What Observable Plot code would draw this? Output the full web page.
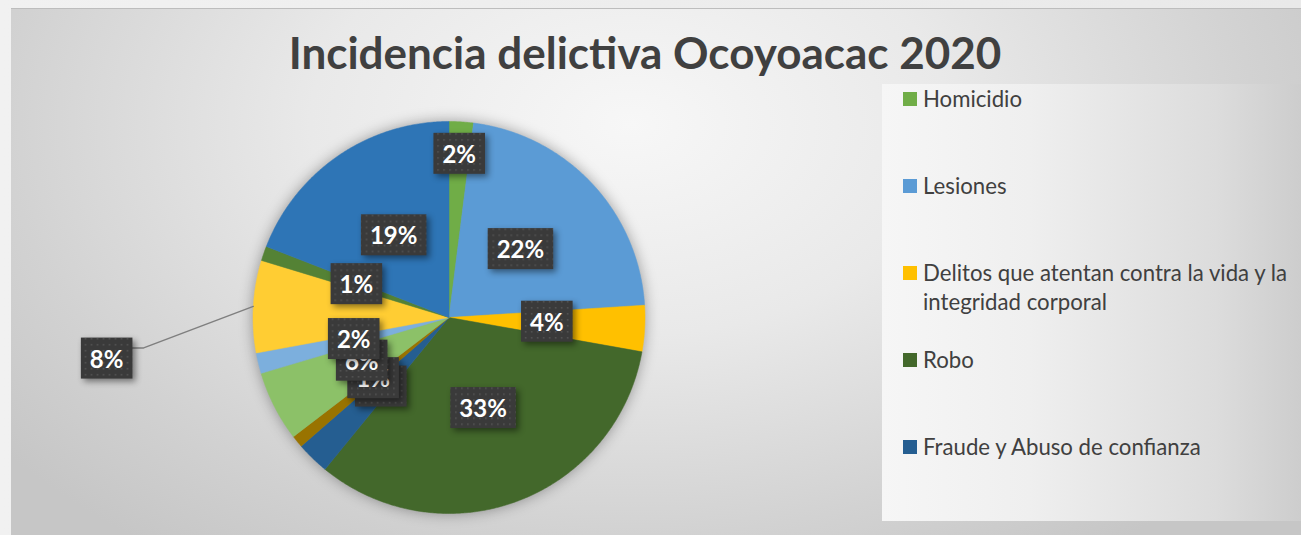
<!DOCTYPE html>
<html>
<head>
<meta charset="utf-8">
<script src="https://cdn.jsdelivr.net/npm/d3@7"></script>
<script src="https://cdn.jsdelivr.net/npm/@observablehq/plot@0.6"></script>
<style>
  html, body { margin: 0; padding: 0; background: #eeeeee; }
  #frame { position: relative; width: 1301px; height: 535px; overflow: hidden;
    background: linear-gradient(90deg, #f1f1f1, #e9e9e9); font-family: Lato, "Open Sans", sans-serif; }
  #chart { position: absolute; left: 11px; top: 8px; width: 1290px; height: 527px;
    background: radial-gradient(ellipse 62% 100% at 48% 22%, #f7f7f7 0%, #e9e9e9 40%, #d2d2d2 78%, #c6c6c6 100%);
    border-top: 1px solid #bdbdbd; box-sizing: border-box; }
  #title { position: absolute; left: -11px; top: 17px; width: 1290px; text-align: center;
    font-family: Lato, sans-serif; font-weight: 700; font-size: 44px; color: #404040; line-height: 52px; }
  #legendPanel { position: absolute; left: 871px; top: 75px; width: 419px; height: 437px;
    background: linear-gradient(90deg, #f6f6f6 0%, #efefef 35%, #dcdcdc 80%, #cdcdcd 100%); }
  .lg-item { position: absolute; left: 912px; width: 376px; font-family: Lato, sans-serif;
    font-size: 22.2px; line-height: 29px; color: #404040; }
  .lg-sw { position: absolute; left: -20px; top: 8px; width: 14px; height: 14px; }
  #plot { position: absolute; left: -11px; top: -8px; }
</style>
</head>
<body>
<div id="frame">
  <div id="chart">
    <div id="title">Incidencia delictiva Ocoyoacac 2020</div>
    <div id="legendPanel"></div>
    <div id="plot"></div>
    <div id="legend"></div>
  </div>
</div>
<script>
// ---- data ----
const categories = [
  "Homicidio",
  "Lesiones",
  "Delitos que atentan contra la vida y la integridad corporal",
  "Robo",
  "Fraude y Abuso de confianza",
  "Daño en los bienes",
  "Violencia familiar",
  "Delitos sexuales",
  "Otros delitos que atentan contra la libertad",
  "Narcomenudeo",
  "Otros delitos del fuero común"
];
const values = [2.0, 22.0, 3.8, 33.1, 2.7, 1.0, 5.8, 1.7, 7.6, 1.2, 19.1];
const colors = ["#70AD47", "#5B9BD5", "#FFC000", "#43682B", "#255E91", "#997300",
                "#8CC168", "#7CAFDD", "#FFCD33", "#548235", "#2E75B6"];
const legendShown = 5;

// ---- label placement (fraction of radius, angle shift in degrees) ----
const labelRadius = [0.83, 0.5, 0.5, 0.5, 0.5, 0.5, 0.5, 0.5, 1.76, 0.5, 0.5];
const labelShift  = [0, 0, 0, 0, 0, 0, 0, 0, -10.3, 0, 0];
const leaderFor = 8;

// ---- geometry ----
const W = 1301, H = 535, CX = 448.5, CY = 316, R = 196;
const arcs = d3.pie().sort(null).value(d => d)(values);

const slicePts = [];
arcs.forEach((p, i) => {
  const n = Math.max(2, Math.ceil((p.endAngle - p.startAngle) / (Math.PI / 360)));
  slicePts.push({cat: categories[i], x: 0, y: 0});
  for (let k = 0; k <= n; k++) {
    const a = p.startAngle + (p.endAngle - p.startAngle) * k / n;
    slicePts.push({cat: categories[i], x: Math.sin(a), y: -Math.cos(a)});
  }
  slicePts.push({cat: categories[i], x: 0, y: 0});
});

const labelData = arcs.map((p, i) => {
  const a = (p.startAngle + p.endAngle) / 2 + labelShift[i] * Math.PI / 180;
  const r = labelRadius[i];
  return {x: r * Math.sin(a), y: -r * Math.cos(a), text: Math.round(values[i]) + "%", cat: categories[i]};
});

const lp = arcs[leaderFor];
const lm = (lp.startAngle + lp.endAngle) / 2;
const L = labelData[leaderFor];
const leader = [
  {x: Math.sin(lm), y: -Math.cos(lm)},
  {x: L.x + 37 / R, y: L.y - 12 / R},
  {x: L.x + 25 / R, y: L.y - 12 / R}
];

const svg = Plot.plot({
  width: W, height: H, margin: 0,
  x: {domain: [-CX / R, (W - CX) / R], range: [0, W], axis: null},
  y: {domain: [-CY / R, (H - CY) / R], range: [0, H], axis: null},
  color: {domain: categories, range: colors},
  style: {background: "transparent", fontFamily: "Lato, sans-serif", overflow: "visible"},
  marks: [
    Plot.line(slicePts, {x: "x", y: "y", z: "cat", fill: "cat", stroke: "cat", strokeWidth: 0.5}),
    Plot.line(leader, {x: "x", y: "y", stroke: "#7f7f7f", strokeWidth: 1.5}),
    Plot.text(labelData, {x: "x", y: "y", text: "text", fill: "white", fontSize: 24, fontWeight: 700})
  ]
});
document.getElementById("plot").append(svg);

// decorations: dotted label boxes with shadow, pie shadow
const ns = "http://www.w3.org/2000/svg";
const defs = document.createElementNS(ns, "defs");
const pat = document.createElementNS(ns, "pattern");
pat.setAttribute("id", "lbldots");
pat.setAttribute("width", "6"); pat.setAttribute("height", "6");
pat.setAttribute("patternUnits", "userSpaceOnUse");
const pr1 = document.createElementNS(ns, "rect");
pr1.setAttribute("width", "6"); pr1.setAttribute("height", "6"); pr1.setAttribute("fill", "#3a3a3a");
const pr2 = document.createElementNS(ns, "rect");
pr2.setAttribute("x", "2"); pr2.setAttribute("y", "2");
pr2.setAttribute("width", "1.6"); pr2.setAttribute("height", "1.6"); pr2.setAttribute("fill", "#535353");
pat.appendChild(pr1); pat.appendChild(pr2); defs.appendChild(pat);
svg.insertBefore(defs, svg.firstChild);

const lineGroups = svg.querySelectorAll('g[aria-label="line"]');
if (lineGroups[0]) lineGroups[0].style.filter = "drop-shadow(0px 0px 7px rgba(0,0,0,0.35))";
const lg = svg.querySelector('g[aria-label="text"]');
if (lg) {
  Array.from(lg.querySelectorAll("text")).forEach(t => {
    const b = t.getBBox();
    const w = b.width + 18, h = 41;
    const rect = document.createElementNS(ns, "rect");
    rect.setAttribute("x", b.x + b.width / 2 - w / 2);
    rect.setAttribute("y", b.y + b.height / 2 - h / 2);
    rect.setAttribute("width", w);
    rect.setAttribute("height", h);
    rect.setAttribute("fill", "url(#lbldots)");
    if (t.getAttribute("transform")) rect.setAttribute("transform", t.getAttribute("transform"));
    rect.style.filter = "drop-shadow(3px 3px 3px rgba(0,0,0,0.45))";
    lg.insertBefore(rect, t);
  });
}

// legend (first entries visible, as in the original)
const legend = document.getElementById("legend");
categories.slice(0, legendShown).forEach((c, i) => {
  const item = document.createElement("div");
  item.className = "lg-item";
  item.style.top = (74.5 + i * 87.2) + "px";
  const sw = document.createElement("div");
  sw.className = "lg-sw";
  sw.style.background = colors[i];
  item.appendChild(sw);
  item.appendChild(document.createTextNode(c));
  legend.appendChild(item);
});
</script>
</body>
</html>
